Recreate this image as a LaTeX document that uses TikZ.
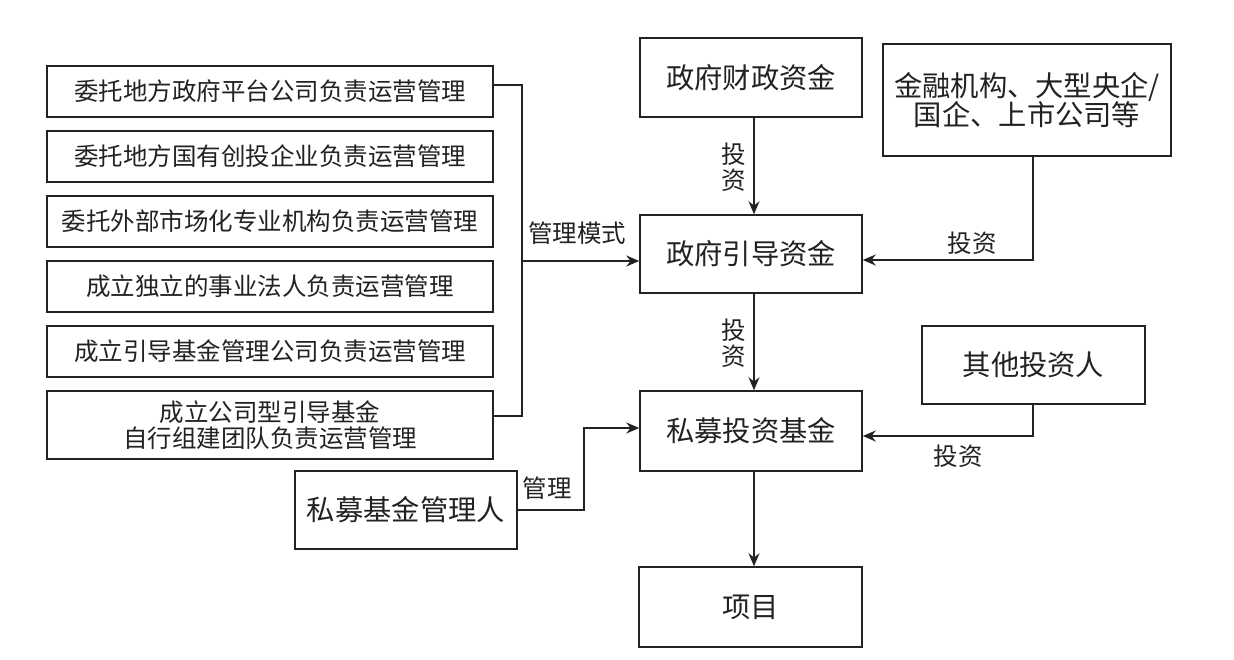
\documentclass[tikz,border=0pt]{standalone}
\usepackage{fontspec}
\setmainfont{Noto Sans CJK SC}[Scale=1.0]
\usetikzlibrary{arrows.meta}
\definecolor{ink}{HTML}{222222}
\begin{document}
\begin{tikzpicture}[x=1pt,y=-1pt,
  box/.style={draw=ink, line width=1.5pt, rectangle, inner sep=0pt, align=center, text=ink},
  bigtxt/.style={font=\fontsize{28.3}{33}\selectfont},
  smalltxt/.style={font=\fontsize{24.5}{31}\selectfont},
  lbl/.style={text=ink, font=\fontsize{24.5}{26}\selectfont, inner sep=0pt},
  conn/.style={draw=ink, line width=1.5pt},
  arr/.style={conn, -{Stealth[length=13pt,width=11pt]}}]
\useasboundingbox (0,0) rectangle (1234,659);
\fill[white] (0,0) rectangle (1234,659);

% left management-mode boxes
\node[box, smalltxt, minimum width=446pt, minimum height=51pt] (m1) at (270,91.5) {委托地方政府平台公司负责运营管理};
\node[box, smalltxt, minimum width=446pt, minimum height=51pt] (m2) at (270,156.5) {委托地方国有创投企业负责运营管理};
\node[box, smalltxt, minimum width=446pt, minimum height=51pt] (m3) at (270,221.5) {委托外部市场化专业机构负责运营管理};
\node[box, smalltxt, minimum width=446pt, minimum height=51pt] (m4) at (270,286.5) {成立独立的事业法人负责运营管理};
\node[box, smalltxt, minimum width=446pt, minimum height=51pt] (m5) at (270,351.5) {成立引导基金管理公司负责运营管理};
\node[box, smalltxt, minimum width=446pt, minimum height=68pt] (m6) at (270,425) {成立公司型引导基金\\[-5pt]自行组建团队负责运营管理};

% central column
\node[box, bigtxt, minimum width=222pt, minimum height=79pt] (czzj) at (751,77.5) {政府财政资金};
\node[box, bigtxt, minimum width=222pt, minimum height=78pt] (ydzj) at (751,254) {政府引导资金};
\node[box, bigtxt, minimum width=222pt, minimum height=80pt] (smjj) at (751,431) {私募投资基金};
\node[box, bigtxt, minimum width=223pt, minimum height=80pt] (xm) at (750.5,607) {项目};

% right boxes
\node[box, bigtxt, minimum width=288pt, minimum height=112pt] (jr) at (1027,100) {金融机构、大型央企/\\[-4pt]国企、上市公司等};
\node[box, bigtxt, minimum width=223pt, minimum height=78pt] (qt) at (1033.5,365) {其他投资人};
\node[box, bigtxt, minimum width=222pt, minimum height=78pt] (glr) at (406,510) {私募基金管理人};

% bracket for management modes
\coordinate (bk1) at (522,85);
\coordinate (bk6) at (522,416);
\coordinate (bkm) at (522,261);
\draw[conn] (m1.east |- bk1) -- (bk1) -- (bk6) -- (m6.east |- bk6);
\draw[arr] (bkm) -- (ydzj.west |- bkm);
\node[lbl] (lms) at (577,233) {管理模式};

% investments
\draw[arr] (czzj.south -| 754,0) -- (ydzj.north -| 754,0);
\node[lbl, align=center] (l1) at (734,167) {投\\[0pt]资};

\coordinate (jrc) at (1033,260);
\draw[arr] (jr.south -| jrc) -- (jrc) -- (ydzj.east |- jrc);
\node[lbl] (l2) at (972,243) {投资};

\draw[arr] (ydzj.south -| 754,0) -- (smjj.north -| 754,0);
\node[lbl, align=center] (l3) at (734,343) {投\\[0pt]资};

\coordinate (qtc) at (1033,436);
\draw[arr] (qt.south -| qtc) -- (qtc) -- (smjj.east |- qtc);
\node[lbl] (l4) at (958,456) {投资};

\coordinate (g1) at (584,510);
\coordinate (g2) at (584,428);
\draw[arr] (glr.east |- g1) -- (g1) -- (g2) -- (smjj.west |- g2);
\node[lbl] (l5) at (547,488) {管理};

\draw[arr] (smjj.south -| 754,0) -- (xm.north -| 754,0);
\end{tikzpicture}
\end{document}
